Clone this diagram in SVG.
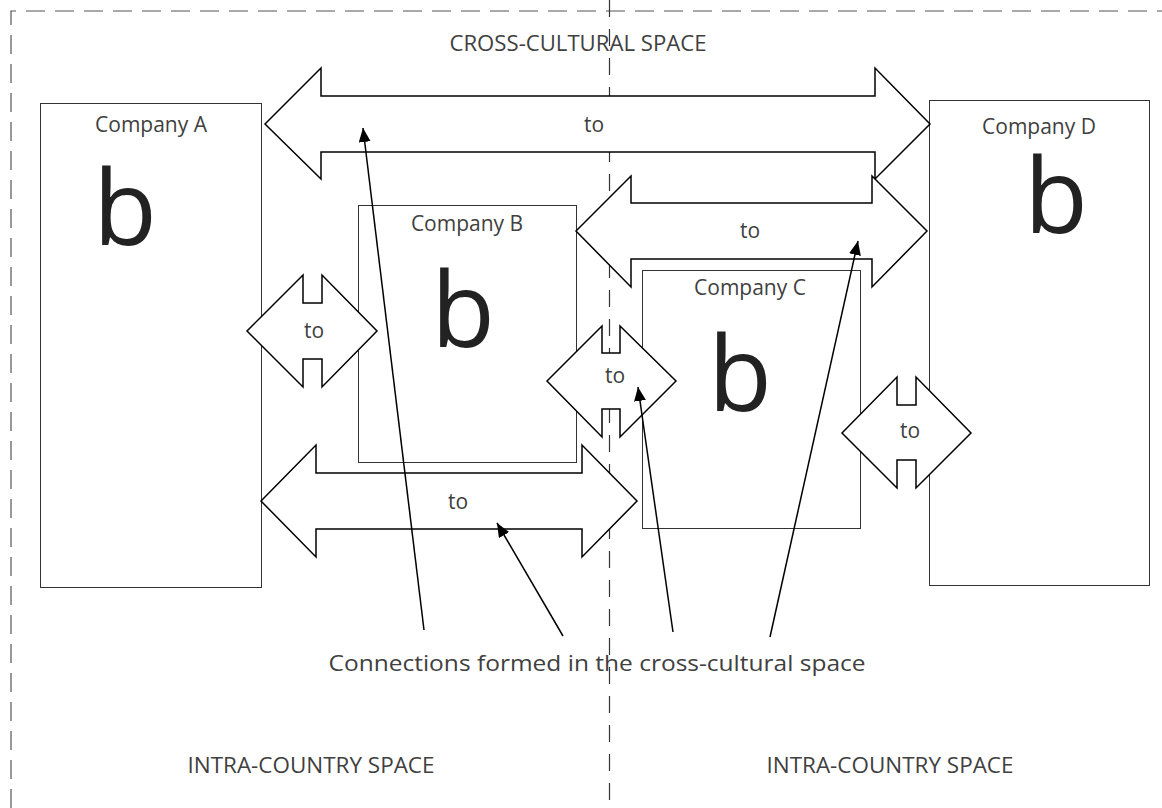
<svg xmlns="http://www.w3.org/2000/svg" width="1162" height="808" viewBox="0 0 1162 808">
<defs>
<style>
.frame{fill:none;stroke:#555;stroke-width:1.2;stroke-dasharray:19 10}
.mid{fill:none;stroke:#333;stroke-width:1.2;stroke-dasharray:17 12}
.box{fill:#fff;stroke:#333;stroke-width:1}
.arr{fill:#fff;stroke:#000;stroke-width:1.5;stroke-linejoin:miter}
.ptr{fill:none;stroke:#000;stroke-width:1.5}
.t{font-family:"Open Sans","Noto Sans",sans-serif;fill:#404040;text-anchor:middle}
.lbl{font-size:21px}
.big{font-size:104px;fill:#222}
.to{font-size:21px}
.sp{font-size:22px}
</style>
<marker id="ahb" viewBox="0 0 14 12" refX="14" refY="6" markerWidth="14" markerHeight="12" markerUnits="userSpaceOnUse" orient="auto">
<path d="M0,0 L14,6 L0,12 z" fill="#000"/>
</marker>
</defs>
<rect width="1162" height="808" fill="#fff"/>
<g id="frame">
<path class="frame" d="M11,808 V11 H1162"/>
<line class="mid" x1="609.5" y1="0" x2="609.5" y2="808"/>
<text class="t sp" x="578" y="51" textLength="257" lengthAdjust="spacingAndGlyphs">CROSS-CULTURAL SPACE</text>
<text class="t sp" x="311" y="773" textLength="247" lengthAdjust="spacingAndGlyphs">INTRA-COUNTRY SPACE</text>
<text class="t sp" x="890" y="773" textLength="247" lengthAdjust="spacingAndGlyphs">INTRA-COUNTRY SPACE</text>
</g>
<g id="companyA">
<rect class="box" x="40.5" y="103.5" width="221" height="484"/>
<text class="t lbl" x="151" y="132">Company A</text>
<text class="t big" x="125" y="245">b</text>
</g>
<g id="companyB">
<rect class="box" x="358.5" y="205.5" width="218" height="257"/>
<text class="t lbl" x="467" y="231">Company B</text>
<text class="t big" x="463" y="347">b</text>
</g>
<g id="companyC">
<rect class="box" x="642.5" y="270.5" width="218" height="258"/>
<text class="t lbl" x="750" y="295">Company C</text>
<text class="t big" x="740" y="411">b</text>
</g>
<g id="companyD">
<rect class="box" x="929.5" y="100.5" width="220" height="485"/>
<text class="t lbl" x="1039" y="134">Company D</text>
<text class="t big" x="1056" y="233">b</text>
</g>
<g id="connectors">
<g id="arrowAD">
<path class="arr" d="M265,124 L321,68 V96 H875 V68 L930,124 L875,179 V152 H321 V179 Z"/>
<text class="t to" x="594" y="132">to</text>
</g>
<g id="arrowBD">
<path class="arr" d="M576,231 L631,176 V203 H872 V176 L927,231 L872,287 V259 H631 V287 Z"/>
<text class="t to" x="750" y="238">to</text>
</g>
<g id="arrowAC">
<path class="arr" d="M261,501 L316,445 V473 H582 V445 L637,501 L582,557 V529 H316 V557 Z"/>
<text class="t to" x="458" y="509">to</text>
</g>
<g id="arrowAB">
<path class="arr" d="M247,331 L303,275 V303 H322 V275 L377,331 L322,387 V359 H303 V387 Z"/>
<text class="t to" x="314" y="338">to</text>
</g>
<g id="arrowBC">
<path class="arr" d="M547,381 L602,326 V353 H620 V326 L676,381 L620,437 V409 H602 V437 Z"/>
<text class="t to" x="615" y="383">to</text>
</g>
<g id="arrowCD">
<path class="arr" d="M842,433 L897,377 V405 H916 V377 L971,433 L916,488 V460 H897 V488 Z"/>
<text class="t to" x="910" y="438">to</text>
</g>
<line class="ptr" x1="424" y1="630" x2="363" y2="128" marker-end="url(#ahb)"/>
<line class="ptr" x1="563" y1="636" x2="497" y2="523" marker-end="url(#ahb)"/>
<line class="ptr" x1="673" y1="632" x2="638" y2="387" marker-end="url(#ahb)"/>
<line class="ptr" x1="770" y1="637" x2="858" y2="241" marker-end="url(#ahb)"/>
</g>
<text class="t sp" x="597" y="671" textLength="537" lengthAdjust="spacingAndGlyphs">Connections formed in the cross-cultural space</text>
</svg>
